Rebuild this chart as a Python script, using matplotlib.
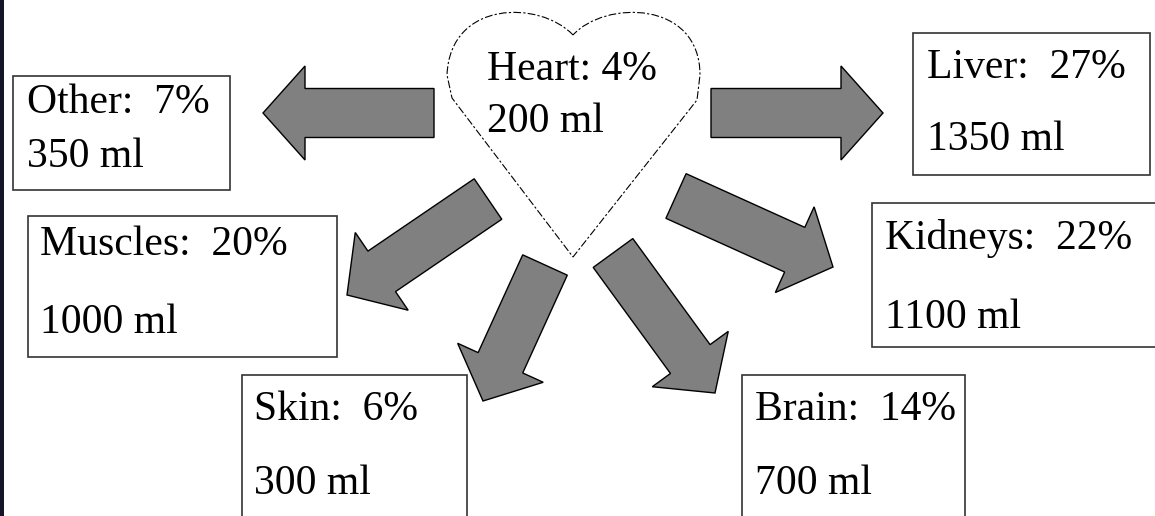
import matplotlib.pyplot as plt
from matplotlib.patches import FancyArrow, Rectangle, PathPatch
from matplotlib.path import Path

# blood distribution from the heart (share of cardiac output, volume)
organs = ["Other", "Muscles", "Skin", "Brain", "Kidneys", "Liver"]
percents = [7, 20, 6, 14, 22, 27]
volumes = [350, 1000, 300, 700, 1100, 1350]
heart_pct = 4
heart_vol = 200

# layout in pixel units (x right, y down)
box_xy = [(13, 76), (28, 216), (242, 375), (742, 375), (872, 203), (913, 33)]
box_wh = [(217, 114), (309, 141), (225, 160), (223, 160), (300, 144), (237, 142)]
text_x = [27, 40, 254, 755, 885, 927]
line1_y = [103, 245, 410, 410, 238, 68]
line2_y = [157, 323, 484, 484, 318, 140]

arrow_tail = [(434, 113), (488, 199), (545, 265), (613, 253), (676, 196), (711, 113)]
arrow_tip = [(263, 113), (347, 295), (483, 401), (715, 393), (833, 267), (883, 113)]

FONT = "Liberation Serif"

fig = plt.figure(figsize=(11.55, 5.16), dpi=100)
ax = fig.add_axes([0, 0, 1, 1])
ax.set_xlim(0, 1155)
ax.set_ylim(516, 0)
ax.axis("off")

# dark strip on the left edge
ax.add_patch(Rectangle((0, 0), 4, 516, color="#15152a", lw=0))

# heart outline
verts = [(573, 35), (540, 0), (450, 0), (447, 75), (452, 98), (573, 257),
         (697, 100), (700, 75), (700, 0), (605, 0), (573, 35), (573, 35)]
codes = [Path.MOVETO, Path.CURVE4, Path.CURVE4, Path.CURVE4, Path.LINETO,
         Path.LINETO, Path.LINETO, Path.LINETO, Path.CURVE4, Path.CURVE4,
         Path.CURVE4, Path.CLOSEPOLY]
ax.add_patch(PathPatch(Path(verts, codes), fc="white", ec="black",
                       lw=0.8, ls=(0, (7, 2, 2, 2))))
ax.text(487, 70, f"Heart: {heart_pct}%", family=FONT, fontsize=30, va="center")
ax.text(487, 122, f"{heart_vol} ml", family=FONT, fontsize=30, va="center")

# arrows
for (x0, y0), (x1, y1) in zip(arrow_tail, arrow_tip):
    ax.add_patch(FancyArrow(x0, y0, x1 - x0, y1 - y0, width=49, head_width=94,
                            head_length=42, length_includes_head=True,
                            fc="#808080", ec="black", lw=1.0))

# organ boxes
for i, name in enumerate(organs):
    ax.add_patch(Rectangle(box_xy[i], *box_wh[i], fc="white", ec="#333333", lw=1.2))
    ax.text(text_x[i], line1_y[i], f"{name}:  {percents[i]}%", family=FONT,
            fontsize=30, va="center")
    ax.text(text_x[i], line2_y[i], f"{volumes[i]} ml", family=FONT,
            fontsize=30, va="center")

fig.savefig("out.png", dpi=100)
